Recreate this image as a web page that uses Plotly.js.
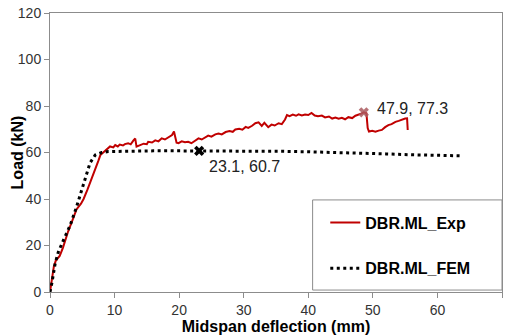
<!DOCTYPE html>
<html><head><meta charset="utf-8">
<script src="https://cdn.plot.ly/plotly-3.0.1.min.js"></script>
<style>html,body{margin:0;padding:0;background:#fff;} #chart{width:509px;height:336px;}</style>
</head><body><div id="chart"></div>
<script>
// Experimental curve (midspan deflection mm, load kN)
const expDeflection = [0,0.3,0.6,0.9,1.5,2.0,2.8,3.5,4.1,4.8,5.2,5.8,6.2,6.8,7.5,7.8,8.5,9.0,9.3,9.8,10.1,10.5,10.8,11.3,11.6,12.1,12.5,12.9,13.2,13.4,13.9,14.5,15.0,15.2,15.8,16.3,16.8,17.3,17.8,18.3,18.9,19.2,19.6,19.9,20.4,20.9,21.4,21.9,22.5,23.0,23.5,24.0,24.5,25.0,25.6,26.1,26.6,27.2,27.8,28.3,28.7,29.3,29.8,30.3,30.7,31.3,31.8,32.3,32.8,33.2,33.8,34.3,34.8,35.4,35.9,36.4,36.7,37.1,37.6,38.1,38.5,39.0,39.5,40.0,40.5,41.0,41.5,42.1,42.6,43.2,43.7,44.2,44.7,45.2,45.7,46.2,46.8,47.3,47.8,48.3,48.6,49.0,49.2,49.4,49.9,50.4,50.9,51.4,51.9,52.4,52.9,53.5,54.0,54.5,55.0,55.3,55.4];
const expLoad = [0,5,11,13.5,15.5,19,26,31,35.5,38,40,44,46.8,51,56.5,58.9,60.5,61.8,62.6,62.2,63.2,62.6,63.4,63,63.6,64,63.5,65.1,66,62.5,63.2,63.8,63.6,64.6,64.3,65.2,64.8,66.1,65.6,66.6,67.5,69,64.2,64,64.8,64.4,64.6,64,65,66.1,65.6,66.6,67.3,66.8,67.8,68.2,67.8,68.8,69.2,68.9,69.9,70.2,69.8,71,70.6,71.5,72.6,73,71.4,72.8,70.9,72,71.6,72.6,72.2,74.2,76.1,75.6,76.3,75.8,76.4,75.9,76.3,76.1,77,75.9,75.6,75.9,75.1,75.5,74.6,75,74.5,74.9,74.3,75.2,74.8,75.8,76.2,76.8,77.3,76.9,70.5,69,69.3,68.9,69.4,69.7,70.9,71.8,72.2,73.2,73.6,74.2,74.6,74.7,69.7];
// FEM curve
const femDeflection = [0,0.3,0.8,1.3,2.1,3.1,4.1,5.2,6.2,7.0,8.0,9.0,12,16,20,23.1,28,32,36,40,44,48,52,56,60,63.5];
const femLoad = [0,4,12.3,17.3,22.4,28.5,36.5,46.8,55.5,58.9,60,60.4,60.6,60.7,60.7,60.7,60.7,60.6,60.5,60.3,60.1,59.8,59.4,59.0,58.8,58.6];
// Highlighted points
const femPointX = [23.1], femPointY = [60.7], femPointText = '23.1, 60.7';
const expPointX = [48.6], expPointY = [77.3], expPointText = '47.9, 77.3';
const xTicks = [0,10,20,30,40,50,60,70];
const yTicks = [0,20,40,60,80,100,120];
const xTitle = 'Midspan deflection (mm)', yTitle = 'Load (kN)';

const F = '"Liberation Sans", Arial, sans-serif';
const data = [
  {x: expDeflection, y: expLoad, mode: 'lines', name: 'DBR.ML_Exp', legendgroup: 'a',
   line: {color: '#c00000', width: 2}},
  {x: femDeflection, y: femLoad, mode: 'lines', name: 'DBR.ML_FEM', legendgroup: 'b',
   line: {color: '#000000', width: 3, dash: '3px,3.5px'}},
  {x: femPointX, y: femPointY, mode: 'markers', showlegend: false,
   marker: {symbol: 'x', size: 9, color: '#000000'}},
  {x: expPointX, y: expPointY, mode: 'markers', showlegend: false,
   marker: {symbol: 'x', size: 9, color: 'rgba(170,90,95,0.85)'}}
];
const axisCommon = {showgrid: false, zeroline: false, showline: true, mirror: true,
  linecolor: '#8c8c8c', linewidth: 1, ticks: 'outside', ticklen: 5, tickcolor: '#8c8c8c',
  tickfont: {family: F, size: 14, color: '#333'}};
const layout = {
  width: 509, height: 336,
  margin: {l: 50, r: 7, t: 13, b: 44},
  paper_bgcolor: '#fff', plot_bgcolor: '#fff',
  font: {family: F},
  xaxis: Object.assign({}, axisCommon, {range: [0, 70], tickvals: xTicks,
    title: {text: xTitle, font: {family: F, size: 16, color: '#000', weight: 'bold'}, standoff: 4}}),
  yaxis: Object.assign({}, axisCommon, {range: [0, 120], tickvals: yTicks}),
  showlegend: true,
  legend: {x: 0.609, y: 0.31, xanchor: 'left', yanchor: 'top', bgcolor: 'rgba(0,0,0,0)',
    borderwidth: 0, tracegroupgap: 22, itemwidth: 30,
    font: {family: F, size: 16, color: '#000', weight: 'bold'}},
  shapes: [{type: 'rect', xref: 'paper', yref: 'paper', x0: 0.581, x1: 1, y0: 0.007, y1: 0.33,
    line: {color: '#8c8c8c', width: 1}, fillcolor: 'rgba(0,0,0,0)'}],
  annotations: [
    {xref: 'paper', yref: 'paper', x: -0.071, y: 0.5, text: yTitle, textangle: -90,
     showarrow: false, xanchor: 'center', yanchor: 'middle',
     font: {family: F, size: 16, color: '#000', weight: 'bold'}},
    {x: femPointX[0], y: femPointY[0], text: femPointText, showarrow: false, xanchor: 'left',
     xshift: 8, yshift: -16, font: {family: F, size: 16, color: '#222'}},
    {x: expPointX[0], y: expPointY[0], text: expPointText, showarrow: false, xanchor: 'left',
     xshift: 11, yshift: 4, font: {family: F, size: 16, color: '#222'}}
  ]
};
Plotly.newPlot('chart', data, layout, {displayModeBar: false, staticPlot: true});
</script></body></html>
